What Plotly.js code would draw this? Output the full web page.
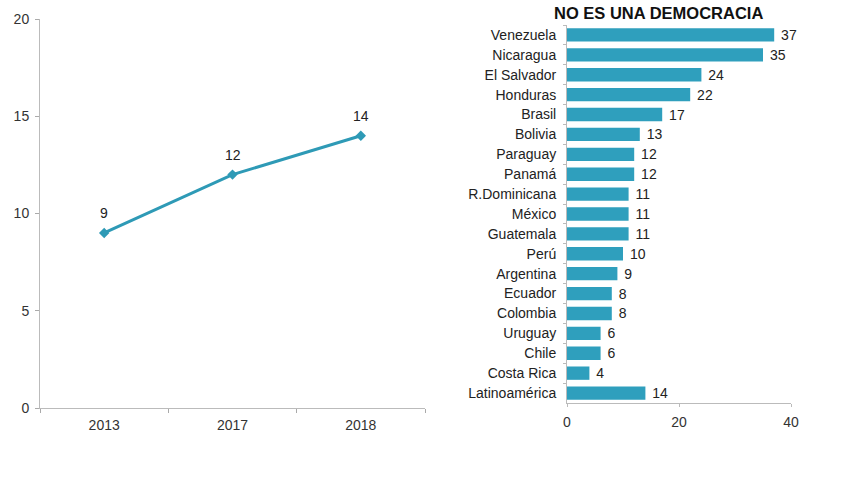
<!DOCTYPE html>
<html>
<head>
<meta charset="utf-8">
<script src="https://cdn.plot.ly/plotly-3.0.1.min.js"></script>
<style>html,body{margin:0;padding:0;background:#fff}#chart{width:860px;height:482px}</style>
</head>
<body>
<div id="chart"></div>
<script>
// Line chart data
var years = ['2013', '2017', '2018'];
var yearValues = [9, 12, 14];

// Bar chart data
var countries = ['Venezuela', 'Nicaragua', 'El Salvador', 'Honduras', 'Brasil', 'Bolivia', 'Paraguay', 'Panamá', 'R.Dominicana', 'México', 'Guatemala', 'Perú', 'Argentina', 'Ecuador', 'Colombia', 'Uruguay', 'Chile', 'Costa Rica', 'Latinoamérica'];
var countryValues = [37, 35, 24, 22, 17, 13, 12, 12, 11, 11, 11, 10, 9, 8, 8, 6, 6, 4, 14];

var barTitle = 'NO ES UNA DEMOCRACIA';

var W = 860, H = 482;
function px(x){return x / W;}
function py(y){return 1 - y / H;}

var lineColor = '#2e9ab6';
var barColor = '#2f9fbd';
var font = 'Liberation Sans, Arial, sans-serif';

var traces = [
  {
    type: 'scatter',
    mode: 'lines+markers',
    x: years,
    y: yearValues,
    line: {color: lineColor, width: 3},
    marker: {symbol: 'diamond', size: 8, color: lineColor},
    xaxis: 'x', yaxis: 'y',
    cliponaxis: false,
    hoverinfo: 'skip'
  },
  {
    type: 'bar',
    orientation: 'h',
    x: countryValues,
    y: countries,
    texttemplate: ' %{x}',
    textposition: 'outside',
    constraintext: 'none',
    textfont: {family: font, size: 14, color: '#222'},
    marker: {color: barColor},
    xaxis: 'x2', yaxis: 'y2',
    cliponaxis: false,
    hoverinfo: 'skip'
  }
];

var annotations = years.map(function (yr, i) {
  return {
    text: String(yearValues[i]),
    xref: 'x', yref: 'y',
    x: i, y: yearValues[i],
    yshift: 20,
    xanchor: 'center', yanchor: 'middle',
    showarrow: false,
    font: {family: font, size: 14, color: '#222'}
  };
});
annotations.push({
  text: '<b>' + barTitle + '</b>',
  xref: 'paper', yref: 'paper',
  x: px(658), y: py(13),
  xanchor: 'center', yanchor: 'middle',
  showarrow: false,
  font: {family: font, size: 16.5, color: '#111'}
});

var layout = {
  width: W, height: H,
  margin: {l: 0, r: 0, t: 0, b: 0},
  paper_bgcolor: '#ffffff',
  plot_bgcolor: 'rgba(0,0,0,0)',
  showlegend: false,
  font: {family: font, size: 14, color: '#333'},
  bargap: 0.33,
  xaxis: {
    domain: [px(40), px(425)],
    anchor: 'y',
    type: 'category',
    range: [-0.5, 2.5],
    tickson: 'boundaries',
    ticks: 'outside', ticklen: 4, tickcolor: '#aaa',
    showline: true, linecolor: '#bbb', linewidth: 1,
    showgrid: false, zeroline: false,
    ticklabelstandoff: 4,
    tickfont: {family: font, size: 14, color: '#333'}
  },
  yaxis: {
    domain: [py(408), py(19)],
    anchor: 'x',
    range: [0, 20],
    dtick: 5,
    ticks: 'outside', ticklen: 4, tickcolor: '#aaa',
    showline: true, linecolor: '#bbb', linewidth: 1,
    showgrid: false, zeroline: false,
    ticklabelstandoff: 3,
    tickfont: {family: font, size: 14, color: '#333'}
  },
  xaxis2: {
    domain: [px(567), px(791)],
    anchor: 'y2',
    range: [0, 40],
    dtick: 20,
    ticks: 'outside', ticklen: 3, tickcolor: '#bbb',
    showline: true, linecolor: '#bbb', linewidth: 1,
    showgrid: false, zeroline: false,
    ticklabelstandoff: 3,
    tickfont: {family: font, size: 14, color: '#333'}
  },
  yaxis2: {
    domain: [py(403), py(25)],
    anchor: 'x2',
    type: 'category',
    categoryorder: 'array',
    categoryarray: countries,
    range: [countries.length - 0.5, -0.5],
    tickson: 'boundaries',
    ticks: 'outside', ticklen: 3, tickcolor: '#bbb',
    showline: true, linecolor: '#bbb', linewidth: 1,
    showgrid: false, zeroline: false,
    ticklabelstandoff: 7,
    tickfont: {family: font, size: 14, color: '#222'}
  },
  annotations: annotations
};

Plotly.newPlot('chart', traces, layout, {staticPlot: true, displayModeBar: false});
</script>
</body>
</html>
